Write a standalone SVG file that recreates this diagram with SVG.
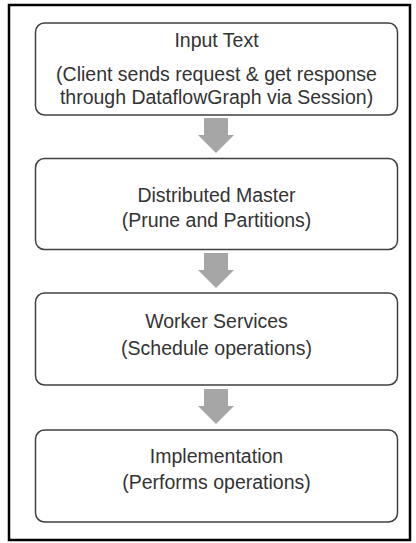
<svg xmlns="http://www.w3.org/2000/svg" width="416" height="543" viewBox="0 0 416 543">
<style>
.frame{fill:#fff;stroke:#000;stroke-width:2.5}
.box{fill:#fff;stroke:#404040;stroke-width:1.5}
.t{font-family:"Liberation Sans","Open Sans",sans-serif;font-size:19.5px;fill:#333;text-anchor:middle}
.arr{fill:#a6a6a6}
</style>
<rect class="frame" x="9" y="5" width="401" height="535"/>
<g id="n1">
<rect class="box" x="35.5" y="23" width="362" height="92" rx="9"/>
<text class="t" x="216.5" y="47">Input Text</text>
<text class="t" x="216.5" y="81">(Client sends request &amp; get response</text>
<text class="t" x="216.5" y="104">through DataflowGraph via Session)</text>
</g>
<g id="n2">
<rect class="box" x="35.5" y="158.5" width="362" height="91" rx="9"/>
<text class="t" x="216.5" y="202">Distributed Master</text>
<text class="t" x="216.5" y="227">(Prune and Partitions)</text>
</g>
<g id="n3">
<rect class="box" x="35.5" y="293" width="362" height="92" rx="9"/>
<text class="t" x="216.5" y="328">Worker Services</text>
<text class="t" x="216.5" y="355">(Schedule operations)</text>
</g>
<g id="n4">
<rect class="box" x="35.5" y="430" width="362" height="92" rx="9"/>
<text class="t" x="216.5" y="463">Implementation</text>
<text class="t" x="216.5" y="489">(Performs operations)</text>
</g>
<g id="connectors">
<polygon class="arr" points="204,118 228,118 228,135 234,135 216,153 198,135 204,135"/>
<polygon class="arr" points="204,253 228,253 228,270 234,270 216,288 198,270 204,270"/>
<polygon class="arr" points="204,389 228,389 228,406 234,406 216,424 198,406 204,406"/>
</g>
</svg>
